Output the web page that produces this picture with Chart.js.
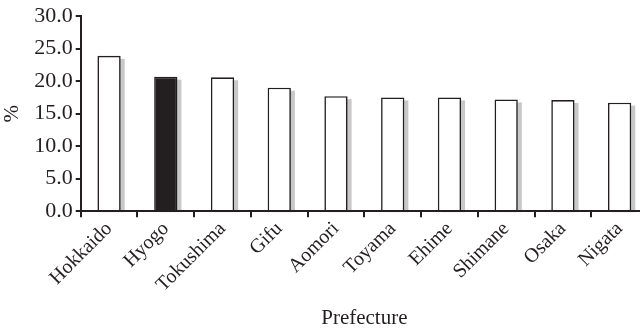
<!DOCTYPE html>
<html>
<head>
<meta charset="utf-8">
<script src="https://cdn.jsdelivr.net/npm/chart.js@4/dist/chart.umd.min.js"></script>
<style>
  html, body { margin: 0; padding: 0; background: #fff; overflow: hidden; }
  #wrap { position: relative; width: 648px; height: 328px; }
</style>
</head>
<body>
<div id="wrap"><canvas id="c"></canvas></div>
<script>
const categories = ["Hokkaido", "Hyogo", "Tokushima", "Gifu", "Aomori", "Toyama", "Ehime", "Shimane", "Osaka", "Nigata"];
const values = [23.9, 20.7, 20.6, 19.0, 17.7, 17.5, 17.5, 17.2, 17.1, 16.7];
const highlighted = ["Hyogo"];
const yTicks = [0, 5, 10, 15, 20, 25, 30];

const INK = '#231f20';
const FONT = "'Liberation Serif', 'Times New Roman', serif";

const shadowPlugin = {
  id: 'barShadow',
  beforeDatasetsDraw(chart) {
    const ctx = chart.ctx;
    const meta = chart.getDatasetMeta(0);
    ctx.save();
    ctx.fillStyle = '#c8c8c8';
    meta.data.forEach(bar => {
      const p = bar.getProps(['x', 'y', 'base', 'width'], true);
      const left = p.x - p.width / 2 + 4;
      ctx.fillRect(left, p.y + 3, p.width, p.base - p.y - 1);
    });
    ctx.restore();
  }
};

new Chart(document.getElementById('c'), {
  type: 'bar',
  data: {
    labels: categories,
    datasets: [{
      data: values,
      backgroundColor: categories.map(c => highlighted.includes(c) ? INK : '#ffffff'),
      borderColor: INK,
      borderWidth: 1.6,
      borderSkipped: 'bottom',
      barPercentage: 0.41,
      categoryPercentage: 1.0
    }]
  },
  options: {
    responsive: true,
    maintainAspectRatio: false,
    animation: false,
    layout: { padding: { top: 4, left: 0, right: 0, bottom: -3 } },
    plugins: { legend: { display: false }, tooltip: { enabled: false } },
    scales: {
      x: {
        grid: { display: true, drawOnChartArea: false, offset: true, color: INK, lineWidth: 2, tickLength: 6, z: 1 },
        border: { display: true, color: INK, width: 2, z: 1 },
        ticks: {
          color: INK, font: { family: FONT, size: 20 },
          maxRotation: 45, minRotation: 45, padding: 0, autoSkip: false
        },
        title: { display: true, text: 'Prefecture', color: INK, font: { family: FONT, size: 21 }, padding: { top: 9, bottom: 0 } }
      },
      y: {
        min: 0, max: 30,
        afterBuildTicks(scale) { scale.ticks = yTicks.map(v => ({ value: v })); },
        grid: { display: true, drawOnChartArea: false, color: INK, lineWidth: 2, tickLength: 5, z: 1 },
        border: { display: true, color: INK, width: 2, z: 1 },
        ticks: {
          color: INK, font: { family: FONT, size: 22 }, padding: 3,
          callback: v => Number(v).toFixed(1)
        },
        title: { display: true, text: '%', color: INK, font: { family: FONT, size: 21 }, padding: { top: 0, bottom: 6 } }
      }
    }
  },
  plugins: [shadowPlugin]
});
</script>
</body>
</html>
